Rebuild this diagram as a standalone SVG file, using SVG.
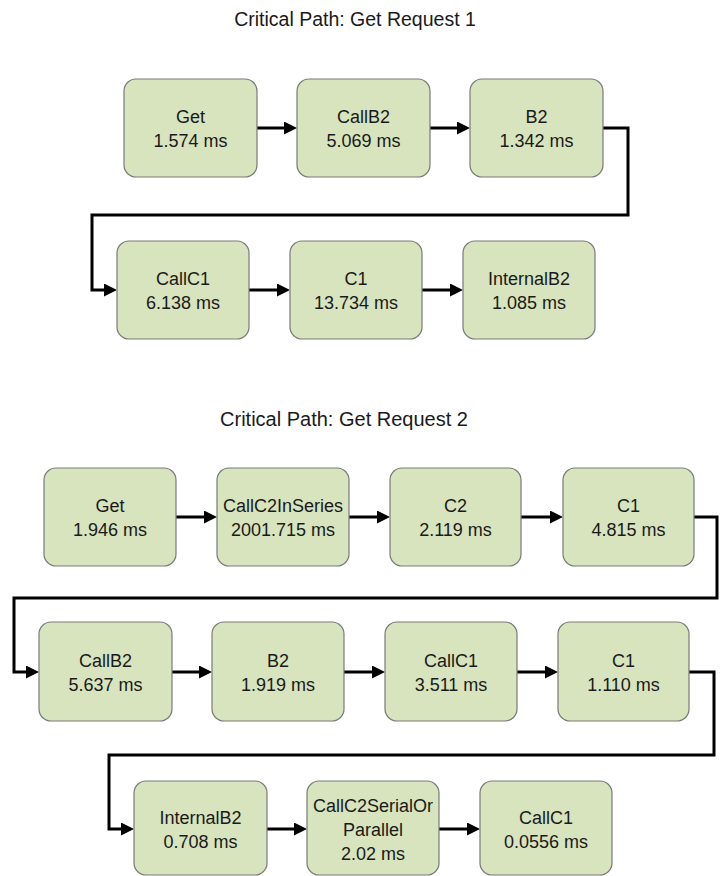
<svg xmlns="http://www.w3.org/2000/svg" width="728" height="876" viewBox="0 0 728 876">
<style>
.bg{fill:#ffffff}
.box{fill:#d7e4bd;stroke:#7a7a7a;stroke-width:1.2}
.t{font-family:"Liberation Sans",Arial,sans-serif;font-size:18px;fill:#1a1a1a;text-anchor:middle}
.title{font-family:"Liberation Sans",Arial,sans-serif;fill:#1a1a1a;text-anchor:middle}
.c{fill:none;stroke:#000;stroke-width:3;stroke-linejoin:miter}
</style>
<defs>
<marker id="ah" markerWidth="13" markerHeight="13" refX="9" refY="6.5" orient="auto" markerUnits="userSpaceOnUse">
<path d="M0,0 L13,6.5 L0,13 z" fill="#000"/>
</marker>
</defs>
<rect class="bg" x="0" y="0" width="728" height="876"/>
<text class="title" x="355" y="26" font-size="19.5">Critical Path: Get Request 1</text>
<text class="title" x="344" y="426" font-size="20">Critical Path: Get Request 2</text>

<g id="connectors">
<path class="c" marker-end="url(#ah)" d="M257,128 H293"/>
<path class="c" marker-end="url(#ah)" d="M430,128 H466"/>
<path class="c" marker-end="url(#ah)" d="M603,128 H628 V215 H92 V290 H113"/>
<path class="c" marker-end="url(#ah)" d="M249,290 H286"/>
<path class="c" marker-end="url(#ah)" d="M422,290 H459"/>

<path class="c" marker-end="url(#ah)" d="M176,517 H213"/>
<path class="c" marker-end="url(#ah)" d="M349,517 H386"/>
<path class="c" marker-end="url(#ah)" d="M521,517 H559"/>
<path class="c" marker-end="url(#ah)" d="M694,517 H717 V598 H14 V672 H35"/>
<path class="c" marker-end="url(#ah)" d="M172,672 H208"/>
<path class="c" marker-end="url(#ah)" d="M344,672 H381"/>
<path class="c" marker-end="url(#ah)" d="M517,672 H554"/>
<path class="c" marker-end="url(#ah)" d="M689,672 H714 V755 H109 V829 H130"/>
<path class="c" marker-end="url(#ah)" d="M267,829 H303"/>
<path class="c" marker-end="url(#ah)" d="M439,829 H476"/>
</g>

<g id="r1-get"><rect class="box" x="124" y="79" width="133" height="98" rx="12"/><text class="t" x="190.5" y="123">Get</text><text class="t" x="190.5" y="147">1.574 ms</text></g>
<g id="r1-callb2"><rect class="box" x="297" y="79" width="133" height="98" rx="12"/><text class="t" x="363.5" y="123">CallB2</text><text class="t" x="363.5" y="147">5.069 ms</text></g>
<g id="r1-b2"><rect class="box" x="470" y="79" width="133" height="98" rx="12"/><text class="t" x="536.5" y="123">B2</text><text class="t" x="536.5" y="147">1.342 ms</text></g>
<g id="r1-callc1"><rect class="box" x="117" y="241" width="132" height="98" rx="12"/><text class="t" x="183" y="285">CallC1</text><text class="t" x="183" y="309">6.138 ms</text></g>
<g id="r1-c1"><rect class="box" x="290" y="241" width="132" height="98" rx="12"/><text class="t" x="356" y="285">C1</text><text class="t" x="356" y="309">13.734 ms</text></g>
<g id="r1-internalb2"><rect class="box" x="463" y="241" width="132" height="98" rx="12"/><text class="t" x="529" y="285">InternalB2</text><text class="t" x="529" y="309">1.085 ms</text></g>

<g id="r2-get"><rect class="box" x="44" y="468" width="132" height="98" rx="12"/><text class="t" x="110" y="512">Get</text><text class="t" x="110" y="536">1.946 ms</text></g>
<g id="r2-callc2inseries"><rect class="box" x="217" y="468" width="132" height="98" rx="12"/><text class="t" x="283" y="512">CallC2InSeries</text><text class="t" x="283" y="536">2001.715 ms</text></g>
<g id="r2-c2"><rect class="box" x="390" y="468" width="131" height="98" rx="12"/><text class="t" x="455.5" y="512">C2</text><text class="t" x="455.5" y="536">2.119 ms</text></g>
<g id="r2-c1a"><rect class="box" x="563" y="468" width="131" height="98" rx="12"/><text class="t" x="628.5" y="512">C1</text><text class="t" x="628.5" y="536">4.815 ms</text></g>
<g id="r2-callb2"><rect class="box" x="39" y="622" width="133" height="99" rx="12"/><text class="t" x="105.5" y="667">CallB2</text><text class="t" x="105.5" y="691">5.637 ms</text></g>
<g id="r2-b2"><rect class="box" x="212" y="622" width="132" height="99" rx="12"/><text class="t" x="278" y="667">B2</text><text class="t" x="278" y="691">1.919 ms</text></g>
<g id="r2-callc1a"><rect class="box" x="385" y="622" width="132" height="99" rx="12"/><text class="t" x="451" y="667">CallC1</text><text class="t" x="451" y="691">3.511 ms</text></g>
<g id="r2-c1b"><rect class="box" x="558" y="622" width="131" height="99" rx="12"/><text class="t" x="623.5" y="667">C1</text><text class="t" x="623.5" y="691">1.110 ms</text></g>
<g id="r2-internalb2"><rect class="box" x="134" y="781" width="133" height="94" rx="12"/><text class="t" x="200.5" y="824">InternalB2</text><text class="t" x="200.5" y="848">0.708 ms</text></g>
<g id="r2-callc2serialorparallel"><rect class="box" x="307" y="781" width="132" height="94" rx="12"/><text class="t" x="373" y="812">CallC2SerialOr</text><text class="t" x="373" y="836">Parallel</text><text class="t" x="373" y="860">2.02 ms</text></g>
<g id="r2-callc1b"><rect class="box" x="480" y="781" width="132" height="94" rx="12"/><text class="t" x="546" y="824">CallC1</text><text class="t" x="546" y="848">0.0556 ms</text></g>
</svg>
